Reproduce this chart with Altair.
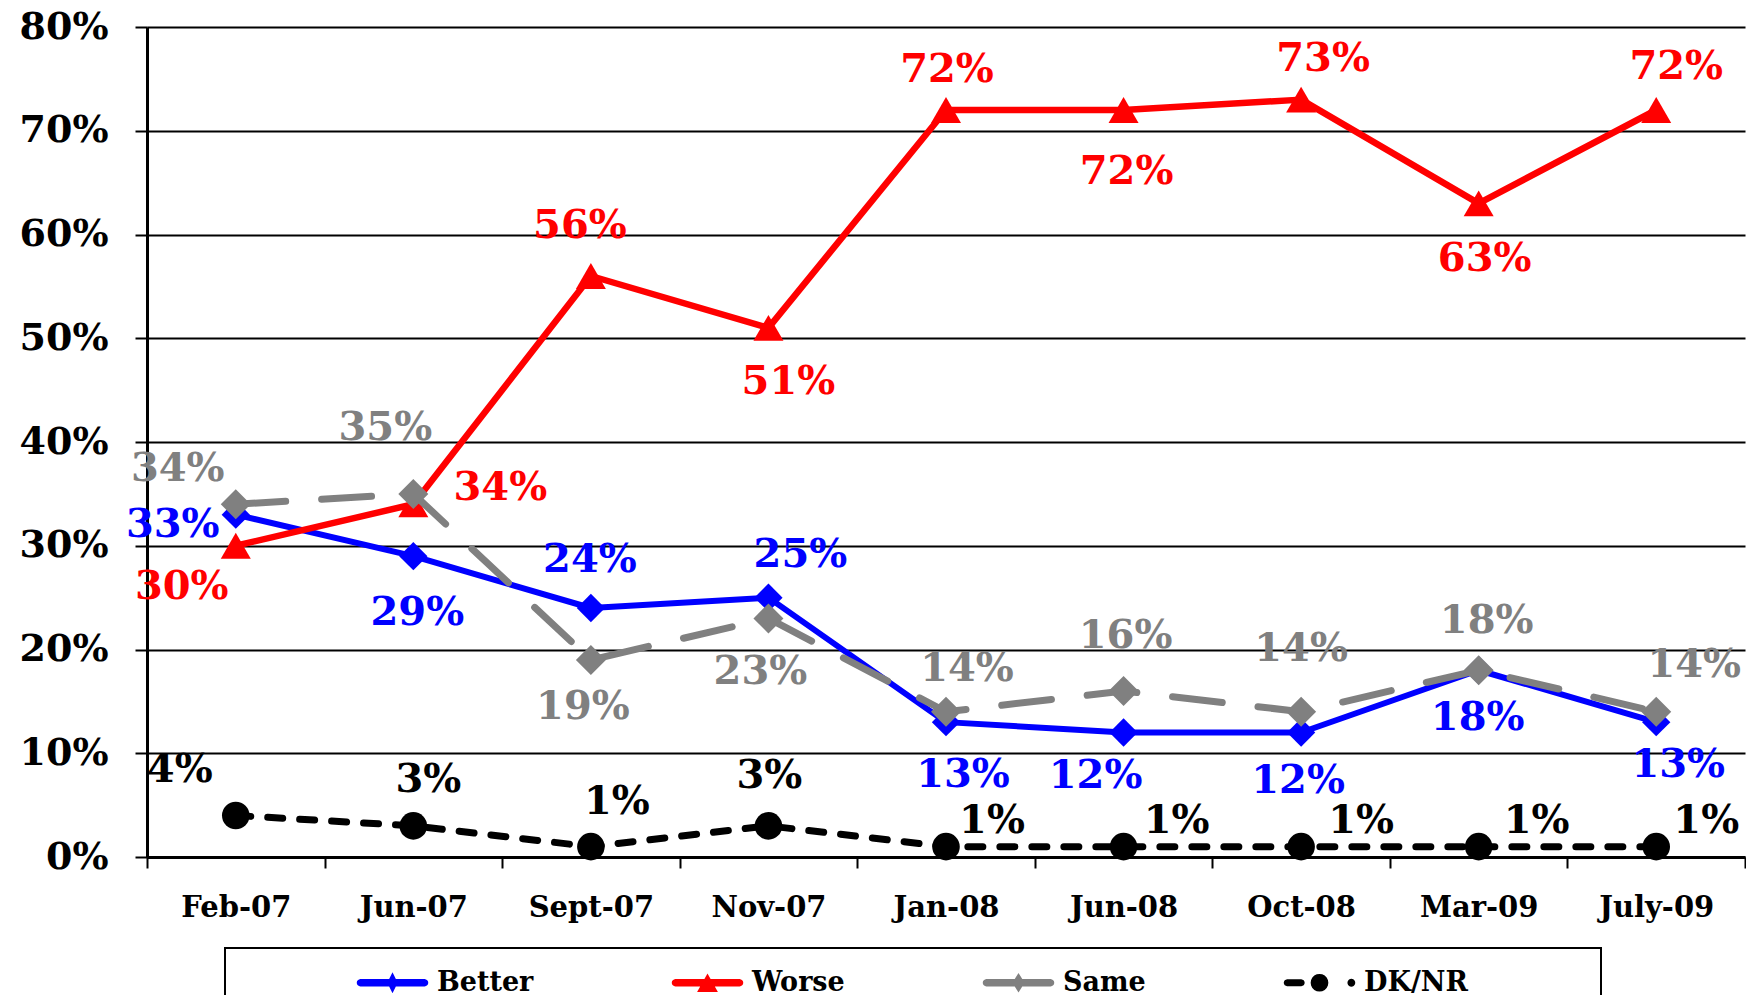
import math
import altair as alt
import pandas as pd

# ---------------- data ----------------
months = ["Feb-07", "Jun-07", "Sept-07", "Nov-07", "Jan-08", "Jun-08", "Oct-08", "Mar-09", "July-09"]
series_names = ["Better", "Worse", "Same", "DK/NR"]

better = [33, 29, 24, 25, 13, 12, 12, 18, 13]
worse = [30, 34, 56, 51, 72, 72, 73, 63, 72]
same = [34, 35, 19, 23, 14, 16, 14, 18, 14]
dknr = [4, 3, 1, 3, 1, 1, 1, 1, 1]

# label offsets (pixels, relative to the data point)
better_dx = [-63, 4, -1, 32, 17, -28, -3, -1, 22]
better_dy = [10, 57, -48, -43, 53, 43, 48, 48, 43]
worse_dx = [-54, 87, -11, 20, 1, 3, 22, 6, 20]
worse_dy = [41, -16, -50, 54, -40, 62, -41, 56, -43]
same_dx = [-58, -28, -8, -8, 21, 2, 0, 8, 38]
same_dy = [-35, -66, 47, 54, -43, -55, -63, -49, -47]
dknr_dx = [-56, 15, 26, 1, 46, 53, 60, 58, 50]
dknr_dy = [-46, -46, -45, -50, -26, -26, -26, -26, -26]

values = {"Better": better, "Worse": worse, "Same": same, "DK/NR": dknr}
offsets = {
    "Better": (better_dx, better_dy),
    "Worse": (worse_dx, worse_dy),
    "Same": (same_dx, same_dy),
    "DK/NR": (dknr_dx, dknr_dy),
}

# ---------------- styles ----------------
W, H = 1598, 830
BAND = W / len(months)
PX_PER_PT = H / 80.0

colors = {"Better": "#0000FF", "Worse": "#FF0000", "Same": "#808080", "DK/NR": "#000000"}
widths = {"Better": 6, "Worse": 6.5, "Same": 7, "DK/NR": 7}
dashes = {"Better": None, "Worse": None, "Same": [50, 36], "DK/NR": [15, 17]}
shapes = {"Better": "diamond", "Worse": "triangle-up", "Same": "diamond", "DK/NR": "circle"}
sizes = {"Better": 800, "Worse": 900, "Same": 900, "DK/NR": 760}
FONT = "DejaVu Serif"

rows = []
for s in series_names:
    dxs, dys = offsets[s]
    for i, (m, v) in enumerate(zip(months, values[s])):
        rows.append({
            "series": s, "month": m, "idx": i, "value": v / 100.0,
            "label": f"{v}%",
            "lx": i + dxs[i] / BAND,
            "ly": (v - dys[i] / PX_PER_PT) / 100.0,
        })
df = pd.DataFrame(rows)

# ---------------- axes ----------------
tick_vals = [i - 0.5 for i in range(len(months) + 1)]
month_arr = "[" + ",".join(f"'{m}'" for m in months) + "]"
x_axis = alt.Axis(
    values=tick_vals, title=None, grid=False,
    labelExpr=f"datum.value < {len(months) - 1} ? {month_arr}[datum.value + 0.5] : ''",
    labelOffset=BAND / 2, labelFont=FONT, labelFontSize=29, labelFontWeight="bold",
    labelColor="black", labelBaseline="alphabetic", labelPadding=48,
    labelOverlap=False, labelBound=False, labelFlush=False,
    tickSize=11, tickWidth=2, tickColor="black",
    domainColor="black", domainWidth=3,
)
y_axis = alt.Axis(
    values=[i / 10 for i in range(9)], format=".0%", title=None,
    grid=True, gridColor="black", gridWidth=2,
    labelFont=FONT, labelFontSize=38, labelFontWeight="bold", labelColor="black",
    labelPadding=27, tickSize=12, tickWidth=2, tickColor="black",
    domainColor="black", domainWidth=3,
)
x_scale = alt.Scale(domain=[-0.5, len(months) - 0.5], nice=False, zero=False)
y_scale = alt.Scale(domain=[0, 0.8], nice=False, zero=True)

base = alt.Chart(df)
layers = []
for s in series_names:
    sub = base.transform_filter(alt.datum.series == s)
    line_kw = dict(color=colors[s], strokeWidth=widths[s], strokeJoin="round",
                   strokeCap="round" if dashes[s] else "butt")
    if dashes[s]:
        line_kw["strokeDash"] = dashes[s]
    layers.append(sub.mark_line(**line_kw).encode(
        x=alt.X("idx:Q", scale=x_scale, axis=x_axis),
        y=alt.Y("value:Q", scale=y_scale, axis=y_axis),
    ))
    layers.append(sub.mark_point(filled=True, opacity=1, shape=shapes[s], size=sizes[s],
                                 color=colors[s]).encode(
        x=alt.X("idx:Q", scale=x_scale, axis=x_axis),
        y=alt.Y("value:Q", scale=y_scale, axis=y_axis),
    ))

for s in series_names:
    sub = base.transform_filter(alt.datum.series == s)
    layers.append(sub.mark_text(font=FONT, fontSize=40, fontWeight="bold", color=colors[s],
                                align="center", baseline="middle").encode(
        x=alt.X("lx:Q", scale=x_scale, axis=x_axis),
        y=alt.Y("ly:Q", scale=y_scale, axis=y_axis),
        text="label:N",
    ))


# ---------------- legend symbols (custom paths, unit = sqrt(size)/2 px) ----------------
def fmt(p):
    return f"{p[0]:.3f},{p[1]:.3f}"


def poly(pts):
    return "M" + " L".join(fmt(p) for p in pts) + " Z"


def capsule(x0, x1, r, n=8):
    pts = []
    for k in range(n + 1):
        a = -math.pi / 2 + math.pi * k / n
        pts.append((x1 + r * math.cos(a), r * math.sin(a)))
    for k in range(n + 1):
        a = math.pi / 2 + math.pi * k / n
        pts.append((x0 + r * math.cos(a), r * math.sin(a)))
    return poly(pts)


def circle(cx, r, n=20):
    return poly([(cx + r * math.cos(2 * math.pi * k / n), r * math.sin(2 * math.pi * k / n)) for k in range(n)])


L, T = 2.75, 0.28
legend_paths = [
    capsule(-L + T, L - T, T) + " " + poly([(0, -0.8), (0.4, 0), (0, 0.8), (-0.4, 0)]),
    capsule(-L + T, L - T, T) + " " + poly([(0, -0.72), (0.8, 0.72), (-0.8, 0.72)]),
    capsule(-L + T, L - T, T) + " " + poly([(0, -0.75), (0.47, 0), (0, 0.75), (-0.47, 0)]),
    capsule(-L + 0.26, -1.4, 0.26) + " " + circle(0, 0.68) + " " + circle(2.45, 0.3),
]

legend = alt.Legend(
    title=" ", titleOrient="right", titleFontSize=2, titlePadding=112,
    orient="none", legendX=78, legendY=921, direction="horizontal", columns=4,
    gridAlign="each", columnPadding=27, padding=21,
    strokeColor="black", fillColor="white",
    labelFont=FONT, labelFontSize=27, labelFontWeight="bold", labelColor="black",
    labelLimit=400,
    symbolSize=676, symbolOffset=133, labelOffset=31, symbolStrokeWidth=0, symbolOpacity=1,
)
legend_layer = base.transform_filter("false").mark_point(filled=True).encode(
    color=alt.Color("series:N", scale=alt.Scale(domain=series_names, range=[colors[s] for s in series_names]),
                    legend=legend),
    shape=alt.Shape("series:N", scale=alt.Scale(domain=series_names, range=legend_paths), legend=legend),
)
layers.append(legend_layer)

chart = alt.layer(*layers).properties(
    width=W, height=H,
    padding={"left": 139, "top": 19, "right": 1, "bottom": 138},
    autosize=alt.AutoSizeParams(type="none"),
    background="white",
).configure_view(stroke=None).configure_legend(strokeWidth=2)

chart.save("out.html", embed_options={"renderer": "svg", "actions": False})
